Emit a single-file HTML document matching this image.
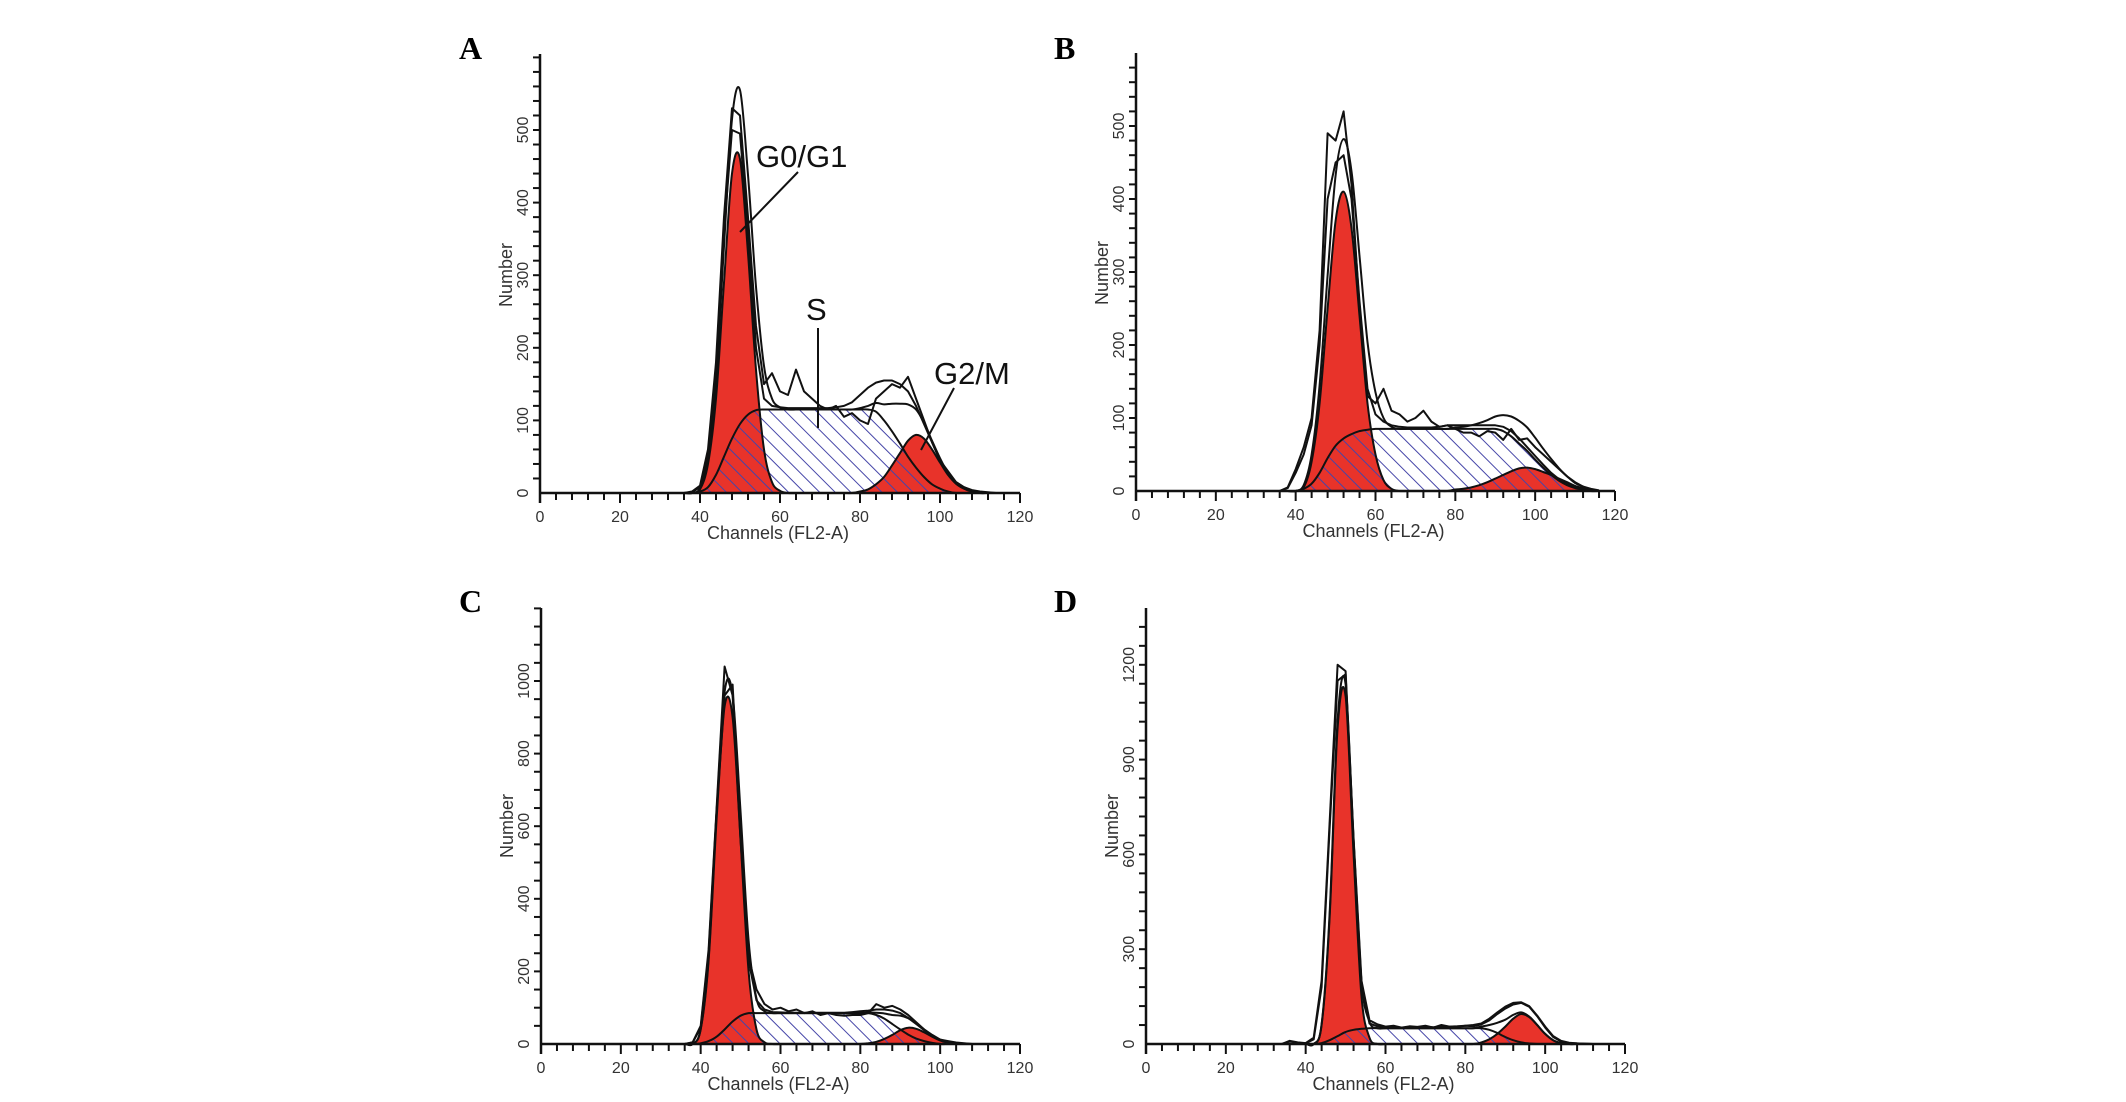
<!DOCTYPE html>
<html><head><meta charset="utf-8">
<style>
html,body{margin:0;padding:0;background:#fff;}
svg{display:block;}
.lbl{font-family:"Liberation Serif",serif;font-weight:bold;font-size:32px;fill:#000;}
.tk{font-family:"Liberation Sans",sans-serif;font-size:16px;fill:#333;}
.ttl{font-family:"Liberation Sans",sans-serif;font-size:18px;fill:#333;}
.ann{font-family:"Liberation Sans",sans-serif;font-size:31px;fill:#111;}
</style></head>
<body>
<svg id="fig" width="2126" height="1102" viewBox="0 0 2126 1102" xmlns="http://www.w3.org/2000/svg">
<defs>
<pattern id="hatch" patternUnits="userSpaceOnUse" width="11" height="11" patternTransform="rotate(-45)">
<line x1="0" y1="0" x2="0" y2="11" stroke="#4646a8" stroke-width="2"/>
</pattern>
</defs>
</svg>
<script>
const CH=[34,36,38,40,42,44,46,48,50,52,54,56,58,60,62,64,66,68,70,72,74,76,78,80,82,84,86,88,90,92,94,96,98,100,102,104,106,108,110,112,114,116];
const A_G1=[0,0,0,5,40,130,290,440,460,330,170,60,15,3,0,0,0,0,0,0,0,0,0,0,0,0,0,0,0,0,0,0,0,0,0,0,0,0,0,0,0,0];
const A_S=[0,0,0,2,8,25,50,75,95,108,114,115,115,115,115,115,115,115,115,115,115,115,115,115,115,112,100,85,68,50,35,22,12,6,2,0,0,0,0,0,0,0];
const A_G2=[0,0,0,0,0,0,0,0,0,0,0,0,0,0,0,0,0,0,0,0,0,0,0,2,5,12,22,38,55,72,80,75,60,42,25,13,6,2,0,0,0,0];
const A_RAW1=[0,0,2,10,60,180,380,530,520,380,230,150,165,140,135,170,140,130,120,115,120,105,110,100,95,130,140,150,145,160,130,100,70,45,30,15,8,3,1,0,0,0];
const A_RAW2=[0,0,1,8,50,170,360,500,495,360,200,130,120,118,117,117,117,117,117,117,118,120,125,135,145,152,155,155,150,140,120,95,70,45,28,15,8,4,2,1,0,0];
const B_G1=[0,0,0,0,5,40,120,250,370,410,360,240,120,50,15,3,0,0,0,0,0,0,0,0,0,0,0,0,0,0,0,0,0,0,0,0,0,0,0,0,0,0];
const B_S=[0,0,0,0,3,10,25,45,62,72,78,82,84,85,85,85,85,85,85,85,85,85,85,85,85,85,85,85,85,82,75,65,55,43,32,22,14,8,4,2,0,0];
const B_G2=[0,0,0,0,0,0,0,0,0,0,0,0,0,0,0,0,0,0,0,0,0,0,0,2,3,5,8,12,17,22,27,31,32,30,26,22,17,12,7,4,2,0];
const B_RAW1=[0,0,5,30,60,100,220,490,480,520,420,250,130,120,140,110,105,95,100,110,95,88,90,85,80,80,75,82,80,70,85,70,72,60,50,40,30,20,12,6,3,1];
const B_RAW2=[0,0,4,25,50,90,200,400,450,460,400,260,140,105,95,90,88,87,87,87,87,88,90,90,90,90,90,90,90,88,82,72,60,48,36,25,16,10,5,2,1,0];
const C_G1=[0,0,0,40,230,620,930,900,560,200,40,5,0,0,0,0,0,0,0,0,0,0,0,0,0,0,0,0,0,0,0,0,0,0,0,0,0,0,0,0,0,0];
const C_S=[0,0,0,2,8,20,40,62,78,85,85,85,85,85,85,85,85,85,85,85,85,85,85,85,85,80,70,55,40,26,15,8,3,0,0,0,0,0,0,0,0,0];
const C_G2=[0,0,0,0,0,0,0,0,0,0,0,0,0,0,0,0,0,0,0,0,0,0,0,0,2,6,14,25,38,45,42,32,20,10,4,1,0,0,0,0,0,0];
const C_RAW1=[0,0,5,50,260,650,1040,960,560,240,150,110,95,100,90,95,85,90,80,85,80,78,80,80,85,110,100,105,95,80,60,40,25,12,8,4,2,0,0,0,0,0];
const C_RAW2=[0,0,4,45,250,640,960,990,580,230,120,95,88,87,86,86,86,86,86,86,86,86,88,90,92,95,95,92,85,72,55,38,22,12,6,3,1,0,0,0,0,0];
const D_G1=[0,0,0,0,0,60,400,1000,1100,600,150,20,0,0,0,0,0,0,0,0,0,0,0,0,0,0,0,0,0,0,0,0,0,0,0,0,0,0,0,0,0,0];
const D_S=[0,0,0,0,0,3,12,25,38,45,48,50,50,50,50,50,50,50,50,50,50,50,50,50,50,50,45,35,22,12,5,2,0,0,0,0,0,0,0,0,0,0];
const D_G2=[0,0,0,0,0,0,0,0,0,0,0,0,0,0,0,0,0,0,0,0,0,0,0,0,0,5,15,32,55,80,95,85,60,32,12,3,0,0,0,0,0,0];
const D_RAW1=[0,10,5,3,20,200,700,1200,1180,650,200,75,62,55,58,52,56,54,58,52,60,55,54,58,56,62,75,95,112,125,130,118,88,52,22,8,3,2,1,0,0,0];
const D_RAW2=[0,8,4,2,15,180,680,1150,1170,640,190,65,56,53,54,52,53,53,54,53,54,55,56,58,60,65,80,100,118,130,132,120,90,55,25,10,4,2,1,0,0,0];
const X_TICKS=[0,20,40,60,80,100,120];
const A_YTICKS=[0,100,200,300,400,500];
const C_YTICKS=[0,200,400,600,800,1000];
const D_YTICKS=[0,300,600,900,1200];

const NS="http://www.w3.org/2000/svg";
const svg=document.getElementById('fig');
function mk(tag,attrs,parent){const e=document.createElementNS(NS,tag);for(const k in attrs)e.setAttribute(k,attrs[k]);(parent||svg).appendChild(e);return e;}

function smoothPath(pts){
  let d='M'+pts[0][0]+','+pts[0][1];
  for(let i=0;i<pts.length-1;i++){
    const p0=pts[Math.max(0,i-1)],p1=pts[i],p2=pts[i+1],p3=pts[Math.min(pts.length-1,i+2)];
    const c1x=p1[0]+(p2[0]-p0[0])/6,c1y=p1[1]+(p2[1]-p0[1])/6;
    const c2x=p2[0]-(p3[0]-p1[0])/6,c2y=p2[1]-(p3[1]-p1[1])/6;
    d+=' C'+c1x.toFixed(1)+','+c1y.toFixed(1)+' '+c2x.toFixed(1)+','+c2y.toFixed(1)+' '+p2[0].toFixed(1)+','+p2[1].toFixed(1);
  }
  return d;
}

function panel(cfg){
  const g=mk('g',{});
  
  
  const X=v=>cfg.x0+v*(cfg.x1-cfg.x0)/120;
  const Y=v=>cfg.y0-v*cfg.ys;
  const ptsOf=arr=>CH.map((c,i)=>[X(c),Y(arr[i])]);
  const area=arr=>{const p=ptsOf(arr);return smoothPath(p)+' L'+X(CH[CH.length-1])+','+cfg.y0+' L'+X(CH[0])+','+cfg.y0+' Z';};
  const sb=mk('path',{d:area(cfg.s),fill:'#fff',stroke:'none'},g);
  
  
  const r1=mk('path',{d:area(cfg.g1),fill:'#e8332a',stroke:'none'},g);
  
  
  const r2=mk('path',{d:area(cfg.g2),fill:'#e8332a',stroke:'none'},g);
  
  
  const sh=mk('path',{d:area(cfg.s),fill:'url(#hatch)',stroke:'none'},g);
  
  
  [cfg.s,cfg.g1,cfg.g2].forEach(a=>{
    const o=mk('path',{d:smoothPath(ptsOf(a)),fill:'none',stroke:'#111','stroke-width':2},g);
    
    
  });
  const tot=cfg.g1.map((v,i)=>v+cfg.s[i]+cfg.g2[i]);
  const ft=mk('path',{d:smoothPath(ptsOf(tot)),fill:'none',stroke:'#111','stroke-width':2},g);
  
  
  [cfg.raw1,cfg.raw2].forEach(a=>{
    const l=mk('polyline',{points:ptsOf(a).map(p=>p[0].toFixed(1)+','+p[1].toFixed(1)).join(' '),fill:'none',stroke:'#111','stroke-width':2,'stroke-linejoin':'round'},g);
    
    
  });
  const ax=mk('line',{x1:cfg.x0,y1:cfg.y0,x2:cfg.x1,y2:cfg.y0,stroke:'#111','stroke-width':2.5},g);
  
  
  const ay=mk('line',{x1:cfg.x0,y1:cfg.y0+10,x2:cfg.x0,y2:cfg.top,stroke:'#111','stroke-width':2.5},g);
  
  
  for(let v=4;v<=120;v+=4){mk('line',{x1:X(v),y1:cfg.y0,x2:X(v),y2:cfg.y0+(v%20===0?10:7),stroke:'#111','stroke-width':2},g);}
  X_TICKS.forEach(v=>{
    const t=mk('text',{x:X(v),y:cfg.y0+29,'text-anchor':'middle',class:'tk'},g);
    t.textContent=v;
    
    
  });
  for(let v=cfg.minor;cfg.y0-v*cfg.ys>cfg.top;v+=cfg.minor){mk('line',{x1:cfg.x0,y1:Y(v),x2:cfg.x0-7,y2:Y(v),stroke:'#111','stroke-width':2},g);}
  cfg.yticks.forEach(v=>{
    const t=mk('text',{x:0,y:0,'text-anchor':'middle',class:'tk',transform:'translate('+(cfg.x0-12)+','+Y(v)+') rotate(-90)'},g);
    t.textContent=v;
    
    
  });
  const xt=mk('text',{x:X(60)-2,y:cfg.y0+46,'text-anchor':'middle',class:'ttl'},g);
  xt.textContent='Channels  (FL2-A)';
  
  
  const yt=mk('text',{x:0,y:0,'text-anchor':'middle',class:'ttl',transform:'translate('+(cfg.x0-28)+','+(cfg.y0-218)+') rotate(-90)'},g);
  yt.textContent='Number';
  
  
  const pl=mk('text',{x:cfg.lx,y:cfg.ly,class:'lbl'},g);
  pl.textContent=cfg.label;
  
  
}

panel({name:'panel-a',label:'A',lx:459,ly:59,x0:540,x1:1020,y0:493,top:54,ys:0.726,minor:20,yticks:A_YTICKS,g1:A_G1,s:A_S,g2:A_G2,raw1:A_RAW1,raw2:A_RAW2});
panel({name:'panel-b',label:'B',lx:1054,ly:59,x0:1136,x1:1615,y0:491,top:53,ys:0.73,minor:20,yticks:A_YTICKS,g1:B_G1,s:B_S,g2:B_G2,raw1:B_RAW1,raw2:B_RAW2});
panel({name:'panel-c',label:'C',lx:459,ly:612,x0:541,x1:1020,y0:1044,top:608,ys:0.363,minor:50,yticks:C_YTICKS,g1:C_G1,s:C_S,g2:C_G2,raw1:C_RAW1,raw2:C_RAW2});
panel({name:'panel-d',label:'D',lx:1054,ly:612,x0:1146,x1:1625,y0:1044,top:608,ys:0.316,minor:60,yticks:D_YTICKS,g1:D_G1,s:D_S,g2:D_G2,raw1:D_RAW1,raw2:D_RAW2});

const annG=mk('g',{});


[['G0/G1',756,167],['S',806,320],['G2/M',934,384]].forEach(a=>{
  const t=mk('text',{x:a[1],y:a[2],class:'ann'},annG);
  t.textContent=a[0];
  
  
});
[[798,172,740,232],[818,328,818,428],[954,388,921,450]].forEach(l=>{
  const e=mk('line',{x1:l[0],y1:l[1],x2:l[2],y2:l[3],stroke:'#111','stroke-width':2},annG);
  
  
});
</script>
</body></html>
